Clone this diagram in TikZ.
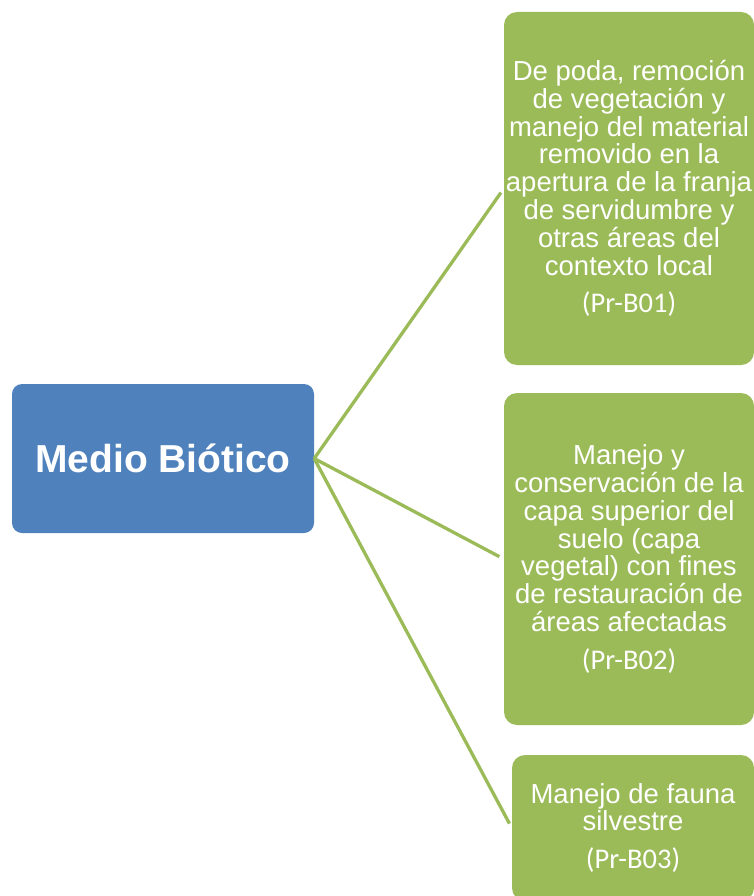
\documentclass[tikz,border=0pt]{standalone}
\usepackage{fontspec}
\setmainfont{Liberation Sans}
\newfontfamily\calib{Carlito}
\definecolor{boxblue}{HTML}{4F81BD}
\definecolor{boxgreen}{HTML}{9BBB59}
\tikzset{
  bluebox/.style={fill=boxblue, draw=none, rounded corners=10pt, text=white,
    font=\fontsize{39}{42}\selectfont\bfseries, align=center, inner sep=0pt},
  greenbox/.style={fill=boxgreen, draw=none, rounded corners=13pt, text=white,
    font=\fontsize{27.5}{27.8}\selectfont, align=center, inner sep=0pt},
  link/.style={draw=boxgreen, line width=3.3pt, shorten >=5pt}
}
\newcommand{\codetag}[1]{\\[10pt]{\calib\fontsize{28.5}{27.8}\selectfont #1}}
\begin{document}
\begin{tikzpicture}[x=1pt,y=-1pt]
\clip (0,0) rectangle (754,896);
\useasboundingbox (0,0) rectangle (754,896);
\node[bluebox, minimum width=302pt, minimum height=149pt] (mb) at (163,458.5) {Medio Biótico};
\node[greenbox, minimum width=250pt, minimum height=353pt] (b1) at (629,188.5)
  {De poda, remoción\\de vegetación y\\manejo del material\\removido en la\\apertura de la franja\\de servidumbre y\\otras áreas del\\contexto local\codetag{(Pr-B01)}};
\node[greenbox, minimum width=250pt, minimum height=332pt] (b2) at (629,559)
  {Manejo y\\conservación de la\\capa superior del\\suelo (capa\\vegetal) con fines\\de restauración de\\áreas afectadas\codetag{(Pr-B02)}};
\node[greenbox, minimum width=242pt, minimum height=146pt] (b3) at (633,828)
  {Manejo de fauna\\silvestre\codetag{(Pr-B03)}};
\draw[link] (mb.east) -- (b1.west);
\draw[link] (mb.east) -- (b2.west);
\draw[link] (mb.east) -- (b3.west);
\end{tikzpicture}
\end{document}
